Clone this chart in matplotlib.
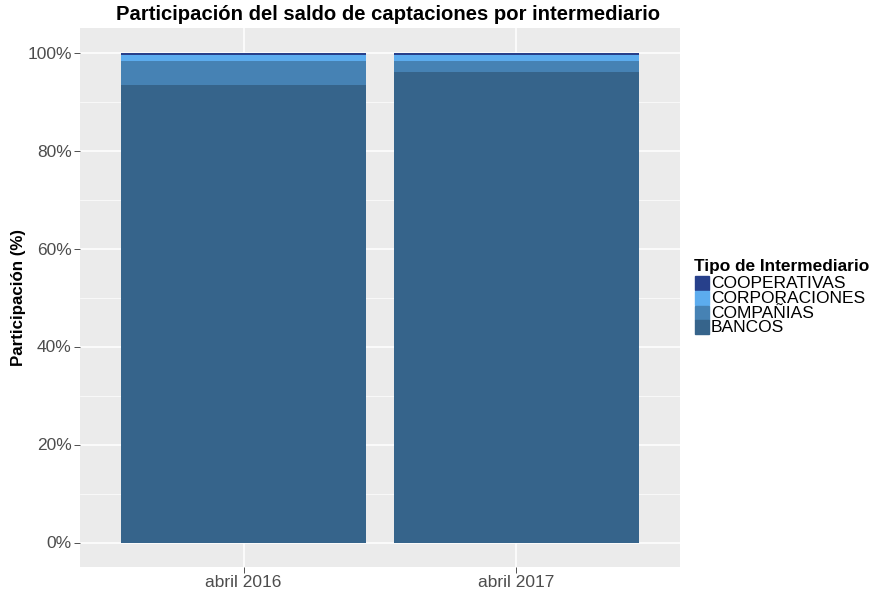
import numpy as np
import matplotlib.pyplot as plt
from matplotlib import rcParams
from matplotlib.patches import Rectangle
import matplotlib.ticker as ticker

rcParams['font.family'] = ['Liberation Sans', 'DejaVu Sans']

# data (share of balance, %)
periodos = ['abril 2016', 'abril 2017']
bancos = [93.3, 96.1]
companias = [4.9, 2.2]
corporaciones = [1.2, 1.1]
cooperativas = [0.6, 0.6]

series = [('BANCOS', bancos, '#36648B'),
          ('COMPAÑIAS', companias, '#4682B4'),
          ('CORPORACIONES', corporaciones, '#5CACEE'),
          ('COOPERATIVAS', cooperativas, '#27408B')]

W, H = 878, 592
fig = plt.figure(figsize=(W/100, H/100), dpi=100)
ax = fig.add_axes([80/W, 1-567/H, 600/W, (567-28)/H])
ax.set_facecolor('#EBEBEB')

x = np.arange(1, len(periodos)+1)
bottom = np.zeros(len(periodos))
for name, vals, col in series:
    ax.bar(x, vals, width=0.9, bottom=bottom, color=col, label=name, zorder=3)
    bottom += np.array(vals)

ax.set_xlim(0.4, 2.6)
ax.set_ylim(-5, 105)
ax.set_xticks(x)
ax.set_xticklabels(periodos)
ax.yaxis.set_major_locator(ticker.FixedLocator([0, 20, 40, 60, 80, 100]))
ax.yaxis.set_minor_locator(ticker.FixedLocator([10, 30, 50, 70, 90]))
ax.yaxis.set_major_formatter(ticker.FuncFormatter(lambda v, p: '%d%%' % v))
ax.grid(which='major', color='white', lw=1.1, zorder=0)
ax.grid(which='minor', axis='y', color='white', lw=0.5, zorder=0)
for s in ax.spines.values():
    s.set_visible(False)
ax.tick_params(which='major', color='#333333', length=4, width=0.6,
               labelsize=12.5, labelcolor='#4D4D4D', pad=2)
ax.tick_params(which='minor', length=0)

ax.set_ylabel('Participación (%)', fontsize=12.2, fontweight='bold')
ax.yaxis.set_label_coords((26-80)/600, 0.5)
fig.text(388/W, 1-14.5/H, 'Participación del saldo de captaciones por intermediario',
         fontsize=14.6, fontweight='bold', ha='center', va='center')

# legend drawn by hand (tight ggplot-style keys)
fig.text(694/W, 1-267/H, 'Tipo de Intermediario', fontsize=12.4,
         fontweight='bold', ha='left', va='center')
for i, (name, vals, col) in enumerate(series[::-1]):
    y0 = 276 + i*14.8
    fig.patches.append(Rectangle((695/W, 1-(y0+14)/H), 14/W, 14/H,
                                 transform=fig.transFigure, color=col))
    fig.text(711/W, 1-(y0+7.5)/H, name, fontsize=12.5, ha='left', va='center')

fig.savefig('out.png', dpi=100)
